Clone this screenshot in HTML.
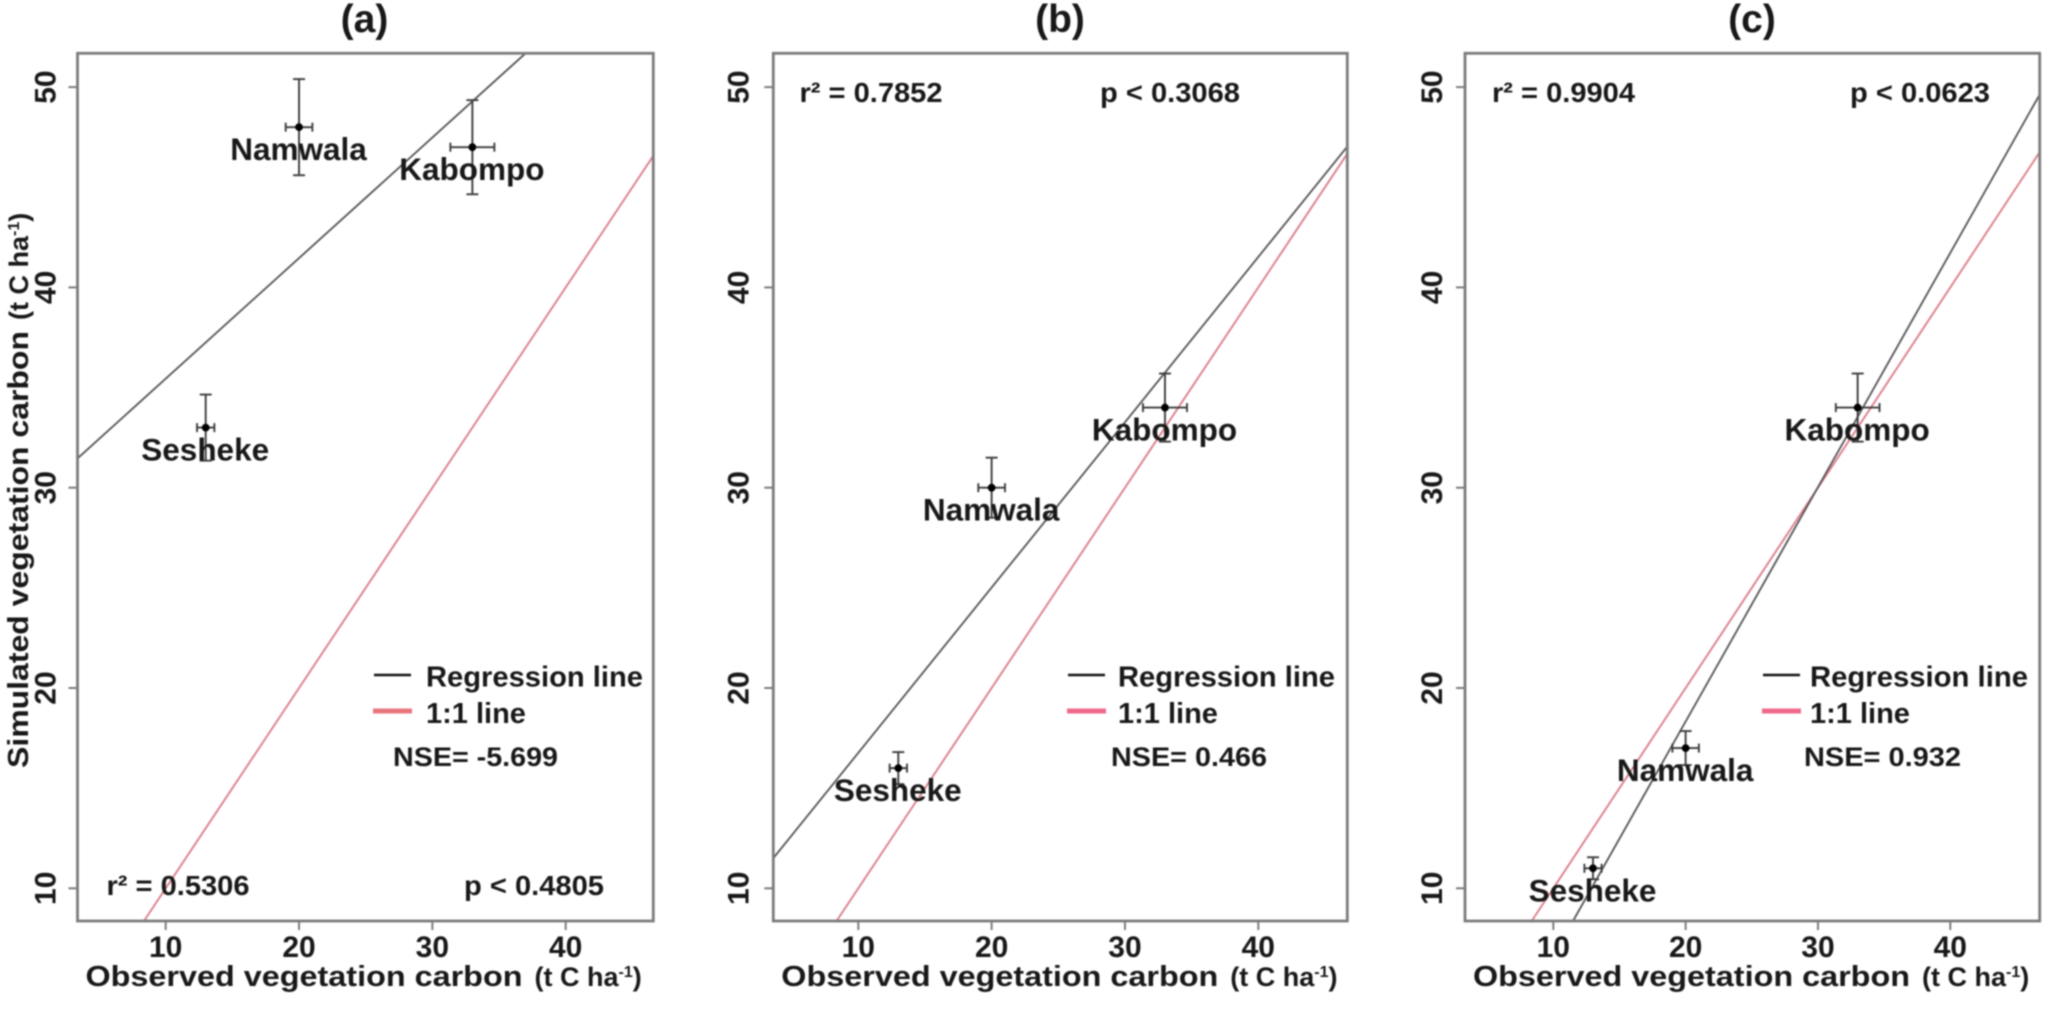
<!DOCTYPE html>
<html lang="en">
<head>
<meta charset="utf-8">
<title>Observed vs simulated vegetation carbon</title>
<style>
  html, body { margin: 0; padding: 0; background: #fff; overflow: hidden; }
  body { width: 2067px; height: 1012px; }
  #chart { display: block; filter: blur(0.85px); }
  text { font-family: "Liberation Sans", sans-serif; fill: #181818; font-weight: bold; }
</style>
</head>
<body>
<svg id="chart" xmlns="http://www.w3.org/2000/svg" width="2067" height="1012" viewBox="0 0 2067 1012"></svg>
<script>
// ---- data ----
const sites = ['Sesheke', 'Namwala', 'Kabompo'];
const observed = [13, 20, 33];
const observedErr = [0.65, 1, 1.65];
const simulatedA = [33, 48, 47];
const simulatedB = [16, 30, 34];
const simulatedC = [11, 17, 34];
const simulatedErrA = [1.65, 2.4, 2.35];
const simulatedErrB = [0.8, 1.5, 1.7];
const simulatedErrC = [0.55, 0.85, 1.7];
const xTicks = [10, 20, 30, 40];
const yTicks = [10, 20, 30, 40, 50];
const panelNames = ['a', 'b', 'c'];
const rSquaredLabels = ['0.5306', '0.7852', '0.9904'];
const pValueLabels = ['0.4805', '0.3068', '0.0623'];
const nseLabels = ['-5.699', '0.466', '0.932'];

// ---- layout ----
const svg = document.getElementById('chart');
const NS = 'http://www.w3.org/2000/svg';
const plotTop = 53.3, plotBottom = 921, y10 = 888.3, yPerUnit = 20.03;
const panelA = { left: 77.5, right: 653.3, tick10: 165.7, tick40: 565.7, yLab: 45, title: 364.5,
  sim: simulatedA, err: simulatedErrA, statY: 885, rX: 106.5, pX: 464, legLine: 374, legText: 426, legW: 217, nseX: 393, nseW: 165, red: '#e8757c' };
const panelB = { left: 773.3, right: 1347.3, tick10: 858.3, tick40: 1258.3, yLab: 738, title: 1060,
  sim: simulatedB, err: simulatedErrB, statY: 92, rX: 799.5, pX: 1100, legLine: 1068, legText: 1118, legW: 217, nseX: 1111, nseW: 156, red: '#f0688a' };
const panelC = { left: 1465, right: 2039.7, tick10: 1553.3, tick40: 1950.3, yLab: 1431.7, title: 1752,
  sim: simulatedC, err: simulatedErrC, statY: 92, rX: 1492, pX: 1850, legLine: 1763, legText: 1810, legW: 218, nseX: 1804, nseW: 157, red: '#f0688a' };
const panels = [panelA, panelB, panelC];

function mk(parent, tag, props, content) {
  const el = document.createElementNS(NS, tag);
  for (const k in props) el.setAttribute(k, props[k]);
  if (content !== undefined) el.textContent = content;
  parent.appendChild(el);
  return el;
}
function line(parent, x1, y1, x2, y2, stroke, width) {
  return mk(parent, 'line', { x1: x1, y1: y1, x2: x2, y2: y2, stroke: stroke, 'stroke-width': width });
}
function fit(xs, ys) {
  const mx = xs.reduce((a, b) => a + b, 0) / xs.length;
  const my = ys.reduce((a, b) => a + b, 0) / ys.length;
  let sxy = 0, sxx = 0;
  xs.forEach((x, i) => { sxy += (x - mx) * (ys[i] - my); sxx += (x - mx) * (x - mx); });
  const slope = sxy / sxx;
  return { slope: slope, intercept: my - slope * mx };
}

panels.forEach((p, idx) => {
  const name = panelNames[idx];
  const kx = (p.tick40 - p.tick10) / 30;
  const sx = v => p.tick10 + (v - 10) * kx;
  const sy = v => y10 - (v - 10) * yPerUnit;
  const xMin = 10 + (p.left - p.tick10) / kx;
  const xMax = 10 + (p.right - p.tick10) / kx;
  const yMin = 10 + (y10 - plotBottom) / yPerUnit;
  const yMax = 10 + (y10 - plotTop) / yPerUnit;
  // end points of y = a + b x inside the plot window
  const ends = (a, b) => {
    const s = Math.max(xMin, (yMin - a) / b);
    const e = Math.min(xMax, (yMax - a) / b);
    return [sx(s), sy(a + b * s), sx(e), sy(a + b * e)];
  };

  const g = mk(svg, 'g', {});
  
  

  const title = mk(g, 'text', { x: p.title, y: 32, 'text-anchor': 'middle', 'font-size': 39 }, '(' + name + ')');
  
  

  // 1:1 and regression lines
  const e1 = ends(0, 1);
  const oneOne = line(g, e1[0], e1[1], e1[2], e1[3], '#dd7f88', 1.9);
  
  

  const r = fit(observed, p.sim);
  const e2 = ends(r.intercept, r.slope);
  const reg = line(g, e2[0], e2[1], e2[2], e2[3], '#555', 1.8);
  
  

  // frame
  const frame = mk(g, 'rect', { x: p.left, y: plotTop, width: p.right - p.left, height: plotBottom - plotTop, fill: 'none', stroke: '#7c7c7c', 'stroke-width': 2.8 });
  
  

  // x axis
  xTicks.forEach(t => {
    const tick = line(g, sx(t), plotBottom, sx(t), plotBottom + 9, '#7c7c7c', 2);
    
    
    const lab = mk(g, 'text', { x: sx(t), y: 957, 'text-anchor': 'middle', 'font-size': 30 }, String(t));
    
    
  });
  // y axis
  yTicks.forEach(t => {
    const tick = line(g, p.left - 9, sy(t), p.left, sy(t), '#7c7c7c', 2);
    
    
    const lab = mk(g, 'text', { x: 0, y: 0, 'text-anchor': 'middle', 'font-size': 30,
      transform: 'translate(' + (p.yLab + 10.5) + ',' + sy(t) + ') rotate(-90)' }, String(t));
    
    
  });

  // points + error bars
  sites.forEach((site, i) => {
    const px = sx(observed[i]), py = sy(p.sim[i]);
    const ex = observedErr[i], ey = p.err[i];
    const eb = mk(g, 'g', {});
    
    
    line(eb, px, sy(p.sim[i] + ey), px, sy(p.sim[i] - ey), '#3d3d3d', 1.9);
    line(eb, px - 6, sy(p.sim[i] + ey), px + 6, sy(p.sim[i] + ey), '#3d3d3d', 1.9);
    line(eb, px - 6, sy(p.sim[i] - ey), px + 6, sy(p.sim[i] - ey), '#3d3d3d', 1.9);
    line(eb, sx(observed[i] - ex), py, sx(observed[i] + ex), py, '#3d3d3d', 1.9);
    line(eb, sx(observed[i] - ex), py - 4.5, sx(observed[i] - ex), py + 4.5, '#3d3d3d', 1.9);
    line(eb, sx(observed[i] + ex), py - 4.5, sx(observed[i] + ex), py + 4.5, '#3d3d3d', 1.9);

    const dot = mk(g, 'circle', { cx: px, cy: py, r: 3.9, fill: '#000' });
    
    

    const lab = mk(g, 'text', { x: px - 0.5, y: py + 33, 'text-anchor': 'middle', 'font-size': 31.5 }, site);
    
    
  });

  // stats
  const rt = mk(g, 'text', { x: p.rX, y: p.statY + 10, 'font-size': 28, textLength: 143, lengthAdjust: 'spacingAndGlyphs' }, 'r\u00B2 = ' + rSquaredLabels[idx]);
  
  
  const pt = mk(g, 'text', { x: p.pX, y: p.statY + 10, 'font-size': 28, textLength: 140, lengthAdjust: 'spacingAndGlyphs' }, 'p < ' + pValueLabels[idx]);
  
  

  // legend
  const legend = mk(g, 'g', {});
  
  
  const l1 = line(legend, p.legLine, 675, p.legLine + 37, 675, '#111', 2.6);
  
  
  const t1 = mk(legend, 'text', { x: p.legText, y: 686.5, 'font-size': 29, textLength: p.legW, lengthAdjust: 'spacingAndGlyphs' }, 'Regression line');
  
  
  const l2 = line(legend, p.legLine - 1, 711, p.legLine + 38, 711, p.red, 5);
  
  
  const t2 = mk(legend, 'text', { x: p.legText, y: 723, 'font-size': 29 }, '1:1 line');
  
  
  const nse = mk(g, 'text', { x: p.nseX, y: 766, 'font-size': 27, textLength: p.nseW, lengthAdjust: 'spacingAndGlyphs' }, 'NSE= ' + nseLabels[idx]);
  
  

  // x title
  const xt = mk(g, 'text', { x: p.left + 8, y: 986, 'font-size': 29, textLength: 437, lengthAdjust: 'spacingAndGlyphs' }, 'Observed vegetation carbon');
  
  
  const xu = mk(g, 'text', { x: p.left + 457, y: 986, 'font-size': 27 });
  
  
  mk(xu, 'tspan', {}, '(t C ha');
  mk(xu, 'tspan', { dy: -9, 'font-size': 16 }, '-1');
  mk(xu, 'tspan', { dy: 9 }, ')');
});

// y title (panel a only)
const yTitle = mk(svg, 'text', { x: 0, y: 0, 'font-size': 29, textLength: 437, lengthAdjust: 'spacingAndGlyphs', transform: 'translate(28,768) rotate(-90)' }, 'Simulated vegetation carbon');


const yUnit = mk(svg, 'text', { x: 0, y: 0, 'font-size': 27, transform: 'translate(28,320) rotate(-90)' });


mk(yUnit, 'tspan', {}, '(t C ha');
mk(yUnit, 'tspan', { dy: -9, 'font-size': 16 }, '-1');
mk(yUnit, 'tspan', { dy: 9 }, ')');
</script>
</body>
</html>
